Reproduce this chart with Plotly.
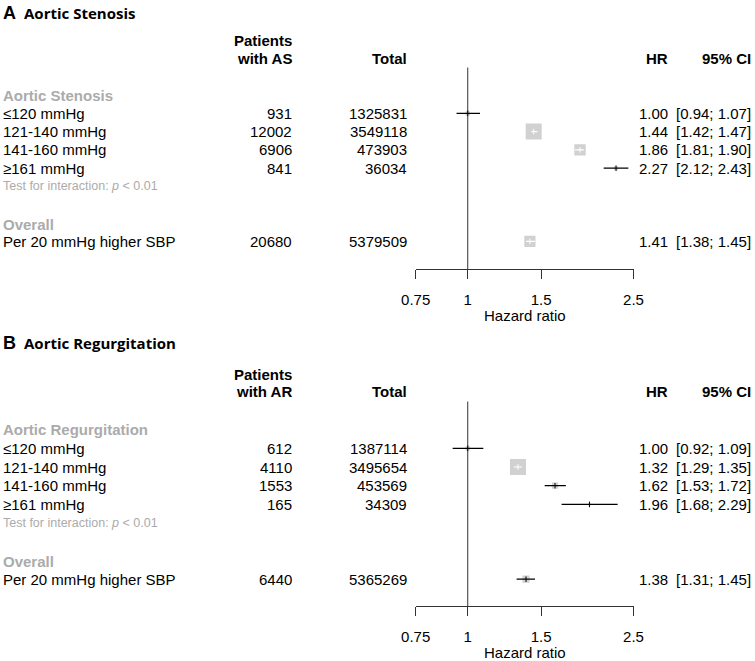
import math
import plotly.graph_objects as go

# ---------------- data ----------------
subgroups = ["≤120 mmHg", "121-140 mmHg", "141-160 mmHg", "≥161 mmHg"]
overall_label = "Per 20 mmHg higher SBP"
tick_vals = [0.75, 1, 1.5, 2.5]
tick_text = ["0.75", "1", "1.5", "2.5"]

as_patients = [931, 12002, 6906, 841]
as_total = [1325831, 3549118, 473903, 36034]
as_hr = [1.00, 1.44, 1.86, 2.27]
as_lo = [0.94, 1.42, 1.81, 2.12]
as_hi = [1.07, 1.47, 1.90, 2.43]
as_overall_patients = 20680
as_overall_total = 5379509
as_overall_hr = 1.41
as_overall_lo = 1.38
as_overall_hi = 1.45

ar_patients = [612, 4110, 1553, 165]
ar_total = [1387114, 3495654, 453569, 34309]
ar_hr = [1.00, 1.32, 1.62, 1.96]
ar_lo = [0.92, 1.29, 1.53, 1.68]
ar_hi = [1.09, 1.35, 1.72, 2.29]
ar_overall_patients = 6440
ar_overall_total = 5365269
ar_overall_hr = 1.38
ar_overall_lo = 1.31
ar_overall_hi = 1.45

# ---------------- layout constants ----------------
W, H = 755, 661
FONT = "Liberation Sans, Arial, sans-serif"
FS = 15
GRAY_TXT = "#ABABAB"
SQ_COL = "#BEBEBE"
AX_COL = "#333333"
X0_PX, X1_PX = 415.7, 633.5
COL_PAT, COL_TOT, COL_HR, COL_CI = 294, 408.5, 670, 753
MAX_BOX = 16.0
PX_PER_DEC = (X1_PX - X0_PX) / math.log10(2.5 / 0.75)

def px(xp):
    return xp / W

def py(yp):
    return 1 - yp / H

fig = go.Figure()
annotations = []
shapes = []

panels = [
    dict(letter="A", title="Aortic Stenosis", group="Aortic Stenosis", short="AS",
         pat=as_patients, tot=as_total, hr=as_hr, lo=as_lo, hi=as_hi,
         opat=as_overall_patients, otot=as_overall_total, ohr=as_overall_hr,
         olo=as_overall_lo, ohi=as_overall_hi,
         row0=95.0, sp=18.3, axis=269.0, top=0.0, title_y=13.0,
         xa="x", ya="y", xkey="xaxis", ykey="yaxis"),
    dict(letter="B", title="Aortic Regurgitation", group="Aortic Regurgitation", short="AR",
         pat=ar_patients, tot=ar_total, hr=ar_hr, lo=ar_lo, hi=ar_hi,
         opat=ar_overall_patients, otot=ar_overall_total, ohr=ar_overall_hr,
         olo=ar_overall_lo, ohi=ar_overall_hi,
         row0=429.6, sp=18.7, axis=606.0, top=320.0, title_y=343.0,
         xa="x2", ya="y2", xkey="xaxis2", ykey="yaxis2"),
]

for p in panels:
    hrs = p["hr"] + [p["ohr"]]
    los = p["lo"] + [p["olo"]]
    his = p["hi"] + [p["ohi"]]
    rows = [1, 2, 3, 4, 8]
    ys = [-r for r in rows]
    # inverse-variance weights -> square size
    ses = [(math.log(h) - math.log(l)) / (2 * 1.959964) for l, h in zip(los, his)]
    ws = [1 / s ** 2 for s in ses]
    wmax = max(ws[:4])
    sizes = [MAX_BOX * math.sqrt(w / wmax) for w in ws]

    fig.add_trace(go.Scatter(
        x=hrs, y=ys, mode="markers", xaxis=p["xa"], yaxis=p["ya"],
        marker=dict(symbol="square", size=sizes, color=SQ_COL, line=dict(width=0)),
        showlegend=False, hoverinfo="skip"))

    groups = {"white": ([], [], [], []), "black": ([], [], [], [])}
    for hr, l, h, y, s in zip(hrs, los, his, ys, sizes):
        span = PX_PER_DEC * math.log10(h / l)
        key = "white" if span < s else "black"
        lx, ly, mx, my = groups[key]
        lx += [l, h, None]; ly += [y, y, None]
        mx.append(hr); my.append(y)
    for col, (lx, ly, mx, my) in groups.items():
        if not lx:
            continue
        fig.add_trace(go.Scatter(x=lx, y=ly, mode="lines", xaxis=p["xa"], yaxis=p["ya"],
                                 line=dict(color=col, width=1.2),
                                 showlegend=False, hoverinfo="skip"))
        fig.add_trace(go.Scatter(x=mx, y=my, mode="markers", xaxis=p["xa"], yaxis=p["ya"],
                                 marker=dict(symbol="line-ns", size=4,
                                             line=dict(color=col, width=1)),
                                 showlegend=False, hoverinfo="skip"))

    bottom = -(p["axis"] - p["row0"]) / p["sp"]
    topv = (p["row0"] - p["top"]) / p["sp"]
    fig.update_layout(**{
        p["xkey"]: dict(type="log", range=[math.log10(0.75), math.log10(2.5)],
                        domain=[px(X0_PX), px(X1_PX)], anchor=p["ya"],
                        showgrid=False, zeroline=False, showline=True,
                        linecolor=AX_COL, linewidth=1, ticks="outside", ticklen=9,
                        tickcolor=AX_COL, tickwidth=1, tickvals=tick_vals, ticktext=tick_text,
                        tickfont=dict(family=FONT, size=FS, color="black"),
                        ticklabelstandoff=8, automargin=False),
        p["ykey"]: dict(domain=[py(p["axis"]), py(p["top"])], range=[bottom, topv],
                        anchor=p["xa"], visible=False, showgrid=False, zeroline=False,
                        automargin=False),
    })

    # reference line at HR = 1
    shapes.append(dict(type="line", xref=p["xa"], yref=p["ya"], x0=1, x1=1,
                       y0=bottom, y1=1.5, line=dict(color=AX_COL, width=1), layer="below"))

    yr = p["ya"]
    def ann(text, xp, y, anchor="right", size=FS, color="black", family=FONT):
        annotations.append(dict(text=text, x=px(xp), xref="paper", y=y, yref=yr,
                                xanchor=anchor, yanchor="middle", showarrow=False,
                                font=dict(family=family, size=size, color=color)))

    # panel titles
    annotations.append(dict(text="<b>" + p["letter"] + "</b>", x=px(1), xref="paper",
                            y=py(p["title_y"]), yref="paper", xanchor="left", yanchor="middle",
                            showarrow=False, font=dict(family=FONT, size=18, color="black")))
    annotations.append(dict(text="<b>" + p["title"] + "</b>", x=px(22), xref="paper",
                            y=py(p["title_y"]), yref="paper", xanchor="left", yanchor="middle",
                            showarrow=False, font=dict(family="Open Sans", size=15, color="black")))
    # headers
    ann("<b>Patients</b>", COL_PAT, 2.97)
    ann("<b>with " + p["short"] + "</b>", COL_PAT, 2.02)
    ann("<b>Total</b>", COL_TOT, 2.02)
    ann("<b>HR</b>", COL_HR, 2.02)
    ann("<b>95% CI</b>", COL_CI, 2.02)
    # group heading
    ann("<b>" + p["group"] + "</b>", 1, 0, anchor="left", color=GRAY_TXT)
    for i, lab in enumerate(subgroups):
        y = -(i + 1)
        ann(lab, 1, y, anchor="left")
        ann(str(p["pat"][i]), COL_PAT, y)
        ann(str(p["tot"][i]), COL_TOT, y)
        ann(f"{p['hr'][i]:.2f}", COL_HR, y)
        ann(f"[{p['lo'][i]:.2f}; {p['hi'][i]:.2f}]", COL_CI, y)
    ann("Test for interaction: <i>p</i> &lt; 0.01", 1, -4.97, anchor="left", size=12.5, color=GRAY_TXT)
    ann("<b>Overall</b>", 1, -7.05, anchor="left", color=GRAY_TXT)
    ann(overall_label, 1, -8, anchor="left")
    ann(str(p["opat"]), COL_PAT, -8)
    ann(str(p["otot"]), COL_TOT, -8)
    ann(f"{p['ohr']:.2f}", COL_HR, -8)
    ann(f"[{p['olo']:.2f}; {p['ohi']:.2f}]", COL_CI, -8)
    # axis title
    annotations.append(dict(text="Hazard ratio", x=0.5, xref=p["xa"] + " domain",
                            y=py(p["axis"] + 46.5), yref="paper", xanchor="center",
                            yanchor="middle", showarrow=False,
                            font=dict(family=FONT, size=FS, color="black")))

fig.update_layout(width=W, height=H,
                  margin=dict(l=0, r=0, t=0, b=0, pad=0, autoexpand=False),
                  paper_bgcolor="white", plot_bgcolor="white",
                  annotations=annotations, shapes=shapes, hovermode=False,
                  font=dict(family=FONT, size=FS, color="black"))

fig.write_html("out.html", config={"displayModeBar": False, "staticPlot": True},
               post_script="document.body.style.margin='0';document.body.style.padding='0';")
